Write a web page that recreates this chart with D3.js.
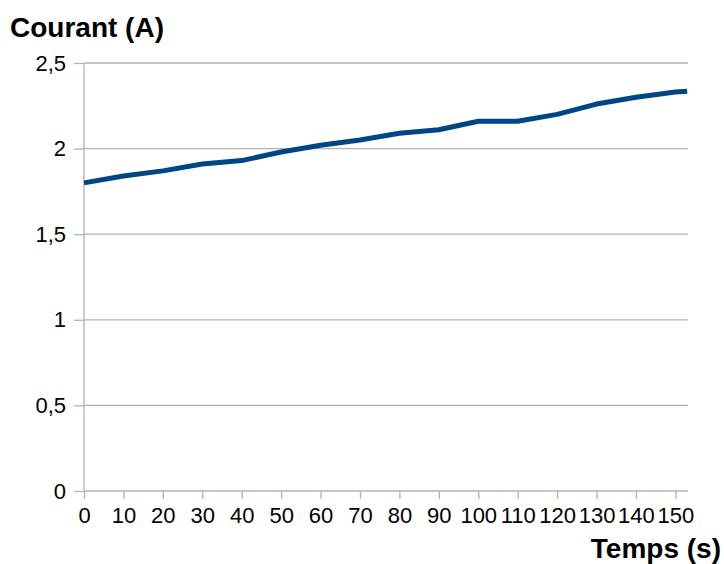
<!DOCTYPE html>
<html>
<head>
<meta charset="utf-8">
<script src="https://cdn.jsdelivr.net/npm/d3@7"></script>
<style>
  body { margin: 0; background: #fff; }
  text { font-family: "Liberation Sans", Arial, sans-serif; fill: #000; }
</style>
</head>
<body>
<div id="chart"></div>
<script>
var width = 724;
var height = 564;

// time (s) and current (A)
var temps = [0, 10, 20, 30, 40, 50, 60, 70, 80, 90, 100, 110, 120, 130, 140, 150, 153];
var courant = [1.80, 1.84, 1.87, 1.91, 1.93, 1.98, 2.02, 2.05, 2.09, 2.11, 2.16, 2.16, 2.20, 2.26, 2.30, 2.33, 2.335];
var xTicks = [0, 10, 20, 30, 40, 50, 60, 70, 80, 90, 100, 110, 120, 130, 140, 150];
var yTicks = [0, 0.5, 1, 1.5, 2, 2.5];

var data = temps.map(function(t, i) { return {t: t, c: courant[i]}; });

var plotLeft = 84, plotRight = 688, plotTop = 63, plotBottom = 491;
var gridColor = "#b3b3b3";

var xScale = d3.scaleLinear().domain([0, 153.2]).range([plotLeft, plotRight]);
var yScale = d3.scaleLinear().domain([0, 2.5]).range([plotBottom, plotTop]);

function comma(d) { return String(d).replace(".", ","); }

var svg = d3.select("#chart")
            .append("svg")
            .attr("width", width)
            .attr("height", height);

// horizontal grid lines
svg.append("g")
   .selectAll("line")
   .data(yTicks)
   .enter()
   .append("line")
   .attr("x1", plotLeft)
   .attr("x2", plotRight)
   .attr("y1", function(d) { return yScale(d); })
   .attr("y2", function(d) { return yScale(d); })
   .attr("stroke", gridColor)
   .attr("stroke-width", 1.3);

// y axis
var yAxis = d3.axisLeft(yScale)
              .tickValues(yTicks)
              .tickSize(10)
              .tickPadding(8)
              .tickFormat(comma);
var gy = svg.append("g")
   .attr("transform", "translate(" + plotLeft + ",0)")
   .call(yAxis);
gy.select(".domain").remove();
gy.append("line")
  .attr("y1", plotTop).attr("y2", plotBottom)
  .attr("stroke", gridColor).attr("stroke-width", 1.3);

// x axis
var xAxis = d3.axisBottom(xScale)
              .tickValues(xTicks)
              .tickSize(8)
              .tickPadding(8)
              .tickFormat(comma);
var gx = svg.append("g")
   .attr("transform", "translate(0," + plotBottom + ")")
   .call(xAxis);
gx.select(".domain").remove();

svg.selectAll(".tick line").attr("stroke", gridColor).attr("stroke-width", 1.3);
svg.selectAll(".tick text").style("font-size", "22px").attr("fill", "#000");

// the current curve
var line = d3.line()
             .x(function(d) { return xScale(d.t); })
             .y(function(d) { return yScale(d.c); });

svg.append("path")
   .datum(data)
   .attr("d", line)
   .attr("fill", "none")
   .attr("stroke", "#004586")
   .attr("stroke-width", 5)
   .attr("stroke-linejoin", "round");

// axis titles
svg.append("text")
   .attr("x", 10)
   .attr("y", 37)
   .style("font-size", "28px")
   .style("font-weight", "bold")
   .text("Courant (A)");

svg.append("text")
   .attr("x", 721)
   .attr("y", 558)
   .style("text-anchor", "end")
   .style("font-size", "28px")
   .style("font-weight", "bold")
   .text("Temps (s)");
</script>
</body>
</html>
